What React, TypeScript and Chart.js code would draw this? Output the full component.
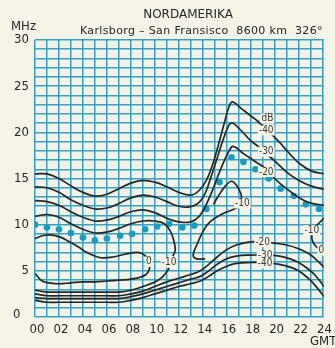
import React, { useEffect, useRef } from 'react';
import { Chart, registerables } from 'chart.js';

Chart.register(...registerables);

type P = [number, number];

// hours (GMT) on x, frequency (MHz) on y
const hourTicks = [0, 2, 4, 6, 8, 10, 12, 14, 16, 18, 20, 22, 24];
const freqTicks = [5, 10, 15, 20, 25, 30];

const contourM40: P[] = [[0,15.5],[1,15.5],[2,15.0],[3,14.2],[4,13.5],[5,13.1],[6,13.3],[7,13.9],[8,14.5],[9,14.8],[10,14.6],[11,14.1],[12,13.5],[13,13.2],[13.7,13.7],[14.3,14.8],[14.8,16.4],[15.3,18.6],[15.8,21.0],[16.2,22.8],[16.5,23.3],[17.2,22.6],[18,21.8],[18.6,21.2],[19.3,20.3],[19.9,19.6],[20.5,18.8],[21.1,17.9],[22.1,16.6],[23.1,15.8],[24.2,15.5]];
const contourM30: P[] = [[0,14.1],[1,14.0],[2,13.5],[3,12.7],[4,12.1],[5,11.7],[6,11.8],[7,12.3],[8,12.9],[9,13.2],[10,13.0],[11,12.5],[12,12.0],[12.8,11.9],[13.6,12.3],[14.2,13.4],[14.7,15.2],[15.2,17.2],[15.7,19.2],[16.2,20.8],[16.5,21.0],[17.2,20.2],[18,19.1],[18.7,18.4],[19.3,17.7],[20,16.9],[21,15.7],[22,14.8],[23,14.2],[24.2,13.8]];
const contourM20: P[] = [[0,12.6],[1,12.5],[2,12.1],[3,11.4],[4,10.8],[5,10.4],[6,10.5],[7,10.9],[8,11.4],[9,11.6],[10,11.3],[11,10.7],[12,10.3],[13,10.3],[13.7,10.9],[14.3,12.2],[14.9,14.0],[15.4,15.7],[15.9,17.2],[16.4,18.4],[16.7,18.4],[17.4,17.7],[18.3,16.9],[19.3,16.0],[20,15.0],[20.7,14.2],[21.5,13.4],[22.2,12.8],[23.1,12.3],[24.2,12.1]];
const contourM10Upper: P[] = [[0,10.9],[1,11.1],[2,10.8],[3,10.1],[4,9.5],[5,9.1],[6,9.2],[7,9.6],[8,10.1],[9,10.4],[10,10.4],[10.8,10.1],[11.3,9.3],[11.6,8.2],[11.7,7.2],[11.5,6.6]];
const contourM10Lower: P[] = [[0,2.9],[1,2.7],[2,2.7],[4,2.7],[6,2.7],[7,2.7],[8,2.9],[9,3.3],[10,3.8],[10.6,4.3],[11.0,4.9],[11.2,5.3]];
const contourM10Island: P[] = [[14.2,6.3],[13.5,6.3],[13.2,6.7],[13.5,7.8],[14.0,9.2],[14.6,10.3],[15.7,11.2],[16.8,11.8],[17.2,12.3],[17.2,13.3],[16.8,14.3],[16.4,14.7],[15.9,14.2],[15.3,13.1],[14.9,12.2]];
const contourM10Right: P[] = [[24.2,10.8],[23.9,10.4],[23.5,9.9],[23.2,9.4],[23.1,8.7],[23.2,8.1],[23.5,7.6],[24.0,7.3],[24.2,7.2]];
const contour0Upper: P[] = [[0,8.5],[0.6,8.8],[1.2,8.9],[2,8.7],[2.8,8.2],[3.6,7.6],[4.3,7.0],[5,6.6],[5.6,6.4],[6.5,6.5],[7.5,6.8],[8.4,7.0],[8.9,6.9],[9.3,6.5]];
const contour0Lower: P[] = [[9.6,5.4],[9.4,4.8],[9,4.4],[8,4.1],[7,4.0],[6,3.9],[5,3.8],[4,3.8],[3,3.7],[2,3.6],[1.2,3.7],[0.6,3.9],[0,4.7]];
const contourM20Low: P[] = [[0,2.5],[1,2.3],[2,2.3],[4,2.3],[6,2.3],[7,2.3],[8,2.5],[9,2.8],[10,3.3],[11,3.8],[12,4.2],[13,4.6],[13.8,5.0],[14.5,5.7],[15.2,6.5],[16,7.3],[16.8,7.8],[17.8,8.1],[18.6,8.2],[20,8.0],[21,7.8],[22,7.4],[22.8,6.9],[23.4,6.3],[24.2,5.3]];
const contourM30Low: P[] = [[0,2.1],[1,2.0],[2,2.0],[4,2.0],[6,2.0],[7,2.0],[8,2.2],[9,2.5],[10,2.9],[11,3.3],[12,3.7],[13,4.1],[13.8,4.4],[14.5,5.0],[15.2,5.7],[16,6.3],[16.8,6.6],[18,6.7],[19.2,6.7],[20.4,6.6],[21.3,6.3],[22,5.9],[22.8,5.2],[23.4,4.5],[24.2,3.2]];
const contourM40Low: P[] = [[0,1.8],[1,1.6],[2,1.6],[4,1.6],[6,1.6],[7,1.6],[8,1.8],[9,2.1],[10,2.5],[11,2.9],[12,3.3],[13,3.6],[13.8,3.9],[14.5,4.4],[15.2,5.0],[16,5.5],[16.8,5.8],[18,5.9],[19.2,5.9],[20.4,5.7],[21.3,5.4],[22,5.0],[22.8,4.2],[23.4,3.4],[24.2,2.1]];

const mufHours = [0,1,2,3,4,5,6,7.1,8.1,9.2,10.2,11.2,12.3,13.3,14.3,15.4,16.4,17.4,18.4,19.5,20.5,21.6,22.6,23.7];
const mufMHz = [10.0,9.7,9.5,9.1,8.6,8.3,8.5,8.8,9.0,9.5,9.8,10.1,9.7,9.9,11.7,14.6,17.3,16.8,16.0,15.0,13.9,13.1,12.2,11.7];

const labelTexts = ['dB','-40','-30','-20','-10','0','-10','-20','-30','-40','-10','0'];
const labelHours = [19.4,19.3,19.3,19.3,17.3,9.5,11.2,19.0,19.2,19.2,23.1,23.9];
const labelMHz = [21.5,20.2,17.9,15.7,12.3,6.0,5.9,8.1,6.7,5.8,9.4,7.2];

const BG = '#f5f2e7';
const GRID = '#34a2c0';
const INK = '#262626';
const FONT = '"DejaVu Sans Condensed", "DejaVu Sans", sans-serif';

const pad2 = (v: number) => (v < 10 ? '0' + v : String(v));

export default function App() {
  const ref = useRef<HTMLCanvasElement>(null);
  useEffect(() => {
    if (!ref.current) return;
    const contours = [contourM40, contourM30, contourM20, contourM10Upper, contourM10Lower, contourM10Island, contourM10Right, contour0Upper, contour0Lower, contourM20Low, contourM30Low, contourM40Low];
    const datasets: any[] = contours.map((c) => ({
      data: c.map(([x, y]) => ({ x, y })),
      borderColor: INK,
      borderWidth: 1.7,
      pointRadius: 0,
      tension: 0.4,
      fill: false,
    }));
    datasets.push({
      data: mufHours.map((h, i) => ({ x: h, y: mufMHz[i] })),
      showLine: false,
      pointRadius: 3.3,
      pointBackgroundColor: '#1b9bbf',
      pointBorderWidth: 0,
    });

    const textPlugin = {
      id: 'texts',
      beforeDraw(chart: any) {
        const ctx = chart.ctx;
        ctx.save();
        ctx.fillStyle = BG;
        ctx.fillRect(0, 0, chart.width, chart.height);
        ctx.restore();
      },
      afterDatasetsDraw(chart: any) {
        const ctx = chart.ctx;
        const xs = chart.scales.x, ys = chart.scales.y;
        ctx.save();
        ctx.font = '10px ' + FONT;
        ctx.textAlign = 'center';
        ctx.textBaseline = 'middle';
        labelTexts.forEach((t, i) => {
          const px = xs.getPixelForValue(labelHours[i]);
          const py = ys.getPixelForValue(labelMHz[i]);
          const w = ctx.measureText(t).width;
          ctx.fillStyle = BG;
          ctx.fillRect(px - w / 2 - 1, py - 5, w + 2, 10);
          ctx.fillStyle = '#3a3a3a';
          ctx.fillText(t, px, py);
        });
        ctx.restore();
      },
      afterDraw(chart: any) {
        const ctx = chart.ctx;
        ctx.save();
        ctx.fillStyle = INK;
        ctx.textBaseline = 'middle';
        ctx.textAlign = 'center';
        ctx.font = '12px "DejaVu Sans"';
        ctx.fillText('NORDAMERIKA', 188, 15);
        ctx.textAlign = 'left';
        ctx.font = '11px "DejaVu Sans"';
        try { (ctx as any).letterSpacing = '0.35px'; } catch (e) {}
        ctx.fillText('Karlsborg – San Fransisco  8600 km  326°', 80, 31);
        try { (ctx as any).letterSpacing = '0px'; } catch (e) {}
        ctx.font = '13px ' + FONT;
        ctx.fillText('MHz', 11, 27);
        ctx.fillText('GMT', 310, 342);
        ctx.fillText('0', 13, 315);
        ctx.restore();
      },
    };

    const tickFont = { family: FONT, size: 13 };
    const chart = new Chart(ref.current, {
      type: 'line',
      data: { datasets },
      options: {
        animation: false,
        responsive: false,
        maintainAspectRatio: false,
        layout: { padding: { top: 40, left: 0, right: 0, bottom: 0 } },
        plugins: { legend: { display: false }, tooltip: { enabled: false } },
        scales: {
          x: {
            type: 'linear',
            min: 0,
            max: 24.1,
            afterBuildTicks: (s: any) => {
              s.ticks = Array.from({ length: 25 }, (_, i) => ({ value: i }));
            },
            afterFit: (s: any) => { s.height = 31; },
            ticks: {
              autoSkip: false,
              maxRotation: 0,
              padding: 5,
              labelOffset: 2,
              color: INK,
              font: tickFont,
              callback: (v: any) => (hourTicks.includes(Number(v)) ? pad2(Number(v)) : ''),
            },
            grid: { color: GRID, lineWidth: 1.5, drawTicks: false },
            border: { display: false },
          },
          y: {
            type: 'linear',
            min: 0,
            max: 30,
            afterBuildTicks: (s: any) => {
              s.ticks = Array.from({ length: 31 }, (_, i) => ({ value: i }));
            },
            afterFit: (s: any) => { s.width = 35; },
            ticks: {
              autoSkip: false,
              padding: 6,
              color: INK,
              font: tickFont,
              callback: (v: any) => (freqTicks.includes(Number(v)) ? String(v) : ''),
            },
            grid: { color: GRID, lineWidth: 1.5, drawTicks: false },
            border: { display: false },
          },
        },
      } as any,
      plugins: [textPlugin],
    });
    return () => chart.destroy();
  }, []);

  return (
    <div style={{ position: 'absolute', left: 0, top: 0, width: 335, height: 348 }}>
      <canvas ref={ref} width={335} height={348} style={{ display: 'block' }} />
    </div>
  );
}
